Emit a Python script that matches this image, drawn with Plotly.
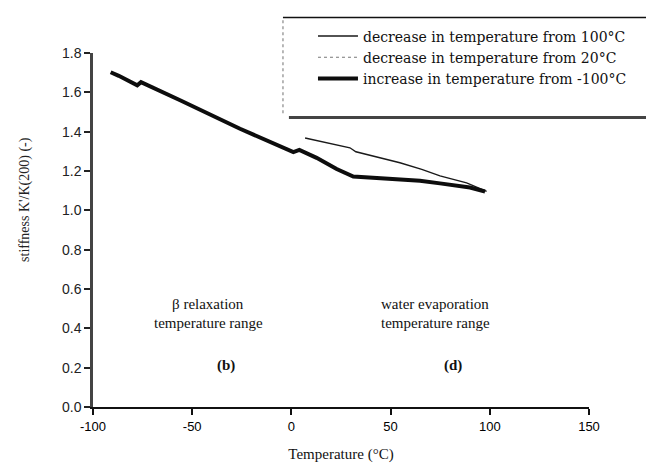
import plotly.graph_objects as go

# ---- data ----
temp_up = [-91.1, -87.0, -77.7, -75.8, -56.1, -25.9, 1.0, 4.0, 12.7, 22.8, 31.2, 49.7, 64.8, 74.9, 90.0, 97.6]
stiff_up = [1.702, 1.684, 1.636, 1.652, 1.560, 1.415, 1.296, 1.307, 1.267, 1.210, 1.172, 1.161, 1.150, 1.137, 1.116, 1.096]

temp_down100 = [98.4, 88.3, 74.9, 65.7, 54.7, 41.3, 32.5, 29.5, 20.0, 6.9]
stiff_down100 = [1.096, 1.140, 1.175, 1.208, 1.242, 1.276, 1.298, 1.318, 1.340, 1.368]

temp_down20 = [20.0, 12.7, 4.0, 1.0, -25.9, -56.1, -75.8, -77.7, -87.0, -91.1]
stiff_down20 = [1.224, 1.267, 1.307, 1.296, 1.415, 1.560, 1.652, 1.636, 1.684, 1.702]

x_ticks = [-100, -50, 0, 50, 100, 150]
y_ticks = [0.0, 0.2, 0.4, 0.6, 0.8, 1.0, 1.2, 1.4, 1.6, 1.8]
y_tick_labels = ["0.0", "0.2", "0.4", "0.6", "0.8", "1.0", "1.2", "1.4", "1.6", "1.8"]

SERIF = "Liberation Serif, Times New Roman, serif"
WIDE_SERIF = "DejaVu Serif, serif"
SANS = "Liberation Sans, Arial, sans-serif"

fig = go.Figure()
fig.add_trace(go.Scatter(x=temp_down100, y=stiff_down100, mode="lines",
                         name="decrease in temperature from 100°C",
                         line=dict(color="#1a1a1a", width=1.4)))
fig.add_trace(go.Scatter(x=temp_down20, y=stiff_down20, mode="lines",
                         name="decrease in temperature from 20°C",
                         line=dict(color="#777777", width=1.2, dash="dot")))
fig.add_trace(go.Scatter(x=temp_up, y=stiff_up, mode="lines",
                         name="increase in temperature from -100°C",
                         line=dict(color="#0d0d0d", width=4)))

# page body has an 8 px margin, so the figure is 8 px smaller than the window
fig.update_layout(
    width=646, height=464,
    margin=dict(l=85, r=65, t=41, b=54),
    paper_bgcolor="white", plot_bgcolor="white",
    showlegend=True,
    legend=dict(x=0.4435, y=1.092, xanchor="left", yanchor="top",
                font=dict(family=WIDE_SERIF, size=14, color="#111"),
                bgcolor="rgba(0,0,0,0)", borderwidth=0,
                tracegroupgap=0, itemwidth=40),
    xaxis=dict(range=[-100, 150], tickvals=x_ticks, ticktext=[str(v) for v in x_ticks],
               showgrid=False, zeroline=False, showline=True, linecolor="#111", linewidth=2,
               ticks="outside", ticklen=6, tickwidth=1.5, tickcolor="#111",
               tickfont=dict(family=SANS, size=13, color="#000"),
               title=dict(text="Temperature (°C)", font=dict(family=SERIF, size=15, color="#111"), standoff=16)),
    yaxis=dict(range=[0, 1.8], tickvals=y_ticks, ticktext=y_tick_labels,
               showgrid=False, zeroline=False, showline=True, linecolor="#444", linewidth=2.5,
               ticks="outside", ticklen=6, tickwidth=1.5, tickcolor="#222",
               tickfont=dict(family=SANS, size=14, color="#222")),
)

# y-axis title (placed above the axis centre, as in the reference)
fig.add_annotation(text="stiffness K'/K(200) (-)", xref="paper", yref="paper",
                   x=-0.137, y=0.585, xanchor="center", yanchor="middle", textangle=-90,
                   showarrow=False, font=dict(family=SERIF, size=14, color="#222"))

# legend frame
fig.add_shape(type="line", xref="paper", yref="paper", x0=0.383, x1=1.15, y0=1.100, y1=1.100,
              line=dict(color="#111", width=1.5))
fig.add_shape(type="line", xref="paper", yref="paper", x0=0.395, x1=1.15, y0=0.818, y1=0.818,
              line=dict(color="#444", width=3))
fig.add_shape(type="line", xref="paper", yref="paper", x0=0.383, x1=0.383, y0=0.83, y1=1.10,
              line=dict(color="#888", width=1.2, dash="dot"))

ann = [
    ("β relaxation", -42, 0.524, False),
    ("temperature range", -42, 0.427, False),
    ("(b)", -33, 0.210, True),
    ("water evaporation", 72.5, 0.524, False),
    ("temperature range", 72.5, 0.427, False),
    ("(d)", 81.5, 0.210, True),
]
for txt, xv, yv, bold in ann:
    fig.add_annotation(x=xv, y=yv, xref="x", yref="y", text=f"<b>{txt}</b>" if bold else txt,
                       showarrow=False, font=dict(family=SERIF, size=15, color="#111"))

fig.write_html("out.html")
